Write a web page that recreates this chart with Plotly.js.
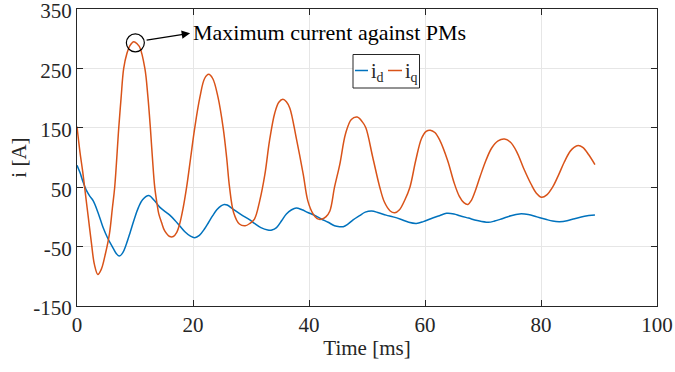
<!DOCTYPE html>
<html>
<head>
<meta charset="utf-8">
<script src="https://cdn.plot.ly/plotly-3.0.1.min.js"></script>
<style>
html,body{margin:0;padding:0;background:#fff;}
#chart{width:675px;height:372px;}
</style>
</head>
<body>
<div id="chart"></div>
<script>
// Time [ms] and current [A]
const tIq = [0,0.5,1.0,1.5,2.0,2.5,3.0,3.6,4.2,4.9,5.6,6.1,6.5,7.2,7.6,8.05,8.6,9.1,9.8,10.4,10.8,11.7,12.2,12.65,13.0,13.4,13.8,14.1,14.6,15.1,16.0,16.6,17.2,17.7,18.3,18.9,19.6,20.3,21.2,22.0,22.7,23.4,24.3,25.2,25.8,26.3,27.0,28.0,29.0,29.8,30.6,31.5,32.4,33.2,34.1,34.8,35.5,36.1,36.7,37.8,39.0,39.8,40.7,41.4,42.1,42.9,43.6,44.4,45.3,46.3,47.3,48.3,49.2,49.8,51.0,52.2,53.0,54.0,54.8,55.6,56.5,57.4,58.4,59.4,60.2,60.9,61.7,62.5,63.9,65.0,65.9,66.7,67.4,68.0,68.6,69.5,70.5,71.5,72.6,73.7,74.7,75.8,77.0,78.3,79.2,80.1,81.0,82.0,83.0,84.0,85.0,85.7,86.4,87.2,88.2,89.3];
const iq  = [152,110,75,35,-5,-45,-80,-97,-88,-62,-28,15,50,150,200,250,275,288,295,291,286,250,205,150,100,50,22,5,-10,-23,-33,-33,-26,-12,15,50,100,150,202,233,240,233,202,150,100,50,7.5,-12,-15,-11,-3.6,27,72,129,175,193,198,194,183,133,72,27,5,-3,-4,0,10,50,88,140,164,168,160,150,100,50,25,10,7,12,28,50,95,132,144,146,142,130,95,58,35,24,21,28,42,68,95,116,128,131,126,110,82,55,40,33,37,50,70,92,110,117,120,117,105,88];
const tId = [0,0.5,1.0,1.6,2.2,2.8,3.6,4.5,5.3,6.2,6.8,7.3,7.9,8.5,9.2,9.9,10.6,11.3,12.4,13.3,14.3,15.2,16.0,16.9,17.7,18.6,19.5,20.3,21.1,22.0,22.7,23.4,24.1,24.9,25.4,25.9,26.9,28.3,29.8,30.6,31.7,32.9,33.6,34.4,35.3,36.1,37.0,37.8,38.8,39.8,40.9,42.1,43.3,44.4,45.3,45.9,46.6,47.6,48.7,49.7,50.8,52.0,53.3,54.5,55.8,57.2,58.5,59.7,61.0,62.5,63.7,65.0,66.0,67.5,69.0,70.9,72.0,73.3,74.8,76.3,77.8,79.3,80.8,82.0,83.2,84.5,85.8,87.5,89.3];
const id  = [87,75,60,45,35,27,8,-18,-36,-52,-62,-66,-60,-46,-25,-3,16,29,36,28,16,9,3,-6,-15,-25,-32,-35,-31,-20,-9,2,12,19,21,20,13,4,-5,-11,-18,-22,-22,-18,-6,5,12,15,12,7.5,3,-3.5,-9,-15,-16.5,-16.5,-13,-5,2,8,10,7,3,0,-4,-9,-11,-8,-3,2,6,5,2,-2,-6,-9,-7,-3,2,5,4,0,-4,-7,-8,-6.5,-3,1,3];
const xTicks = [0,20,40,60,80,100];
const yTicks = [-150,-50,50,150,250,350];
const seriesNames = ['i<sub>d</sub>','i<sub>q</sub>'];
const annotationText = 'Maximum current against PMs';

const FONT = 'Liberation Serif, Times New Roman, serif';
const TXT = '#262626';
const BLUE = '#0072BD';
const ORANGE = '#D95319';

const traces = [
  {x: tId, y: id, type:'scatter', mode:'lines', name:seriesNames[0],
   line:{color:BLUE, width:1.5, shape:'spline', smoothing:1}},
  {x: tIq, y: iq, type:'scatter', mode:'lines', name:seriesNames[1],
   line:{color:ORANGE, width:1.5, shape:'spline', smoothing:1}}
];

const axisCommon = {
  showgrid:true, gridcolor:'#e6e6e6', gridwidth:1,
  showline:true, linecolor:TXT, linewidth:1, mirror:'ticks',
  ticks:'inside', ticklen:6, tickwidth:1, tickcolor:TXT,
  zeroline:false, ticklabeloverflow:'allow',
  tickfont:{family:FONT, size:21, color:TXT}
};

const layout = {
  width:675, height:372,
  margin:{l:77, r:18, t:9, b:66},
  paper_bgcolor:'#fff', plot_bgcolor:'#fff',
  showlegend:false,
  font:{family:FONT, color:TXT},
  xaxis: Object.assign({}, axisCommon, {
    range:[0,100], tickvals:xTicks, ticktext:xTicks.map(String),
    title:{text:'Time [ms]', font:{family:FONT, size:21, color:TXT}, standoff:4}
  }),
  yaxis: Object.assign({}, axisCommon, {
    range:[-150,350], tickvals:yTicks, ticktext:yTicks.map(String),
    ticklabelshift:2,
    title:{text:'i [A]', font:{family:FONT, size:21, color:TXT}, standoff:0}
  }),
  shapes:[
    {type:'circle', xref:'x', yref:'y', xsizemode:'pixel', ysizemode:'pixel',
     xanchor:10.06, yanchor:293, x0:-9, x1:9, y0:-9, y1:9,
     line:{color:'#000', width:1.2}},
    {type:'rect', xref:'paper', yref:'paper',
     x0:(353-77)/580, x1:(419.5-77)/580, y0:1-(88-9)/297, y1:1-(54.5-9)/297,
     line:{color:TXT, width:1}, fillcolor:'#fff', layer:'above'},
    {type:'line', xref:'paper', yref:'paper',
     x0:(355-77)/580, x1:(368-77)/580, y0:1-(70.5-9)/297, y1:1-(70.5-9)/297,
     line:{color:BLUE, width:1.5}},
    {type:'line', xref:'paper', yref:'paper',
     x0:(388-77)/580, x1:(402-77)/580, y0:1-(70.5-9)/297, y1:1-(70.5-9)/297,
     line:{color:ORANGE, width:1.5}}
  ],
  annotations:[
    {x:19.5, y:309, xref:'x', yref:'y', text:'', showarrow:true,
     ax:-45, ay:7, arrowhead:2, arrowsize:1.4, arrowwidth:1.2, arrowcolor:'#000', standoff:0, startstandoff:0},
    {x:19.65, y:311, xref:'x', yref:'y', text:annotationText, showarrow:false,
     xanchor:'left', yanchor:'middle', font:{family:FONT, size:22, color:'#000'}},
    {x:(368.5-77)/580, y:1-(72-9)/297, xref:'paper', yref:'paper', text:seriesNames[0], showarrow:false,
     xanchor:'left', yanchor:'middle', font:{family:FONT, size:20, color:TXT}},
    {x:(402.5-77)/580, y:1-(72-9)/297, xref:'paper', yref:'paper', text:seriesNames[1], showarrow:false,
     xanchor:'left', yanchor:'middle', font:{family:FONT, size:20, color:TXT}}
  ]
};

Plotly.newPlot('chart', traces, layout, {staticPlot:true, displayModeBar:false});
</script>
</body>
</html>
